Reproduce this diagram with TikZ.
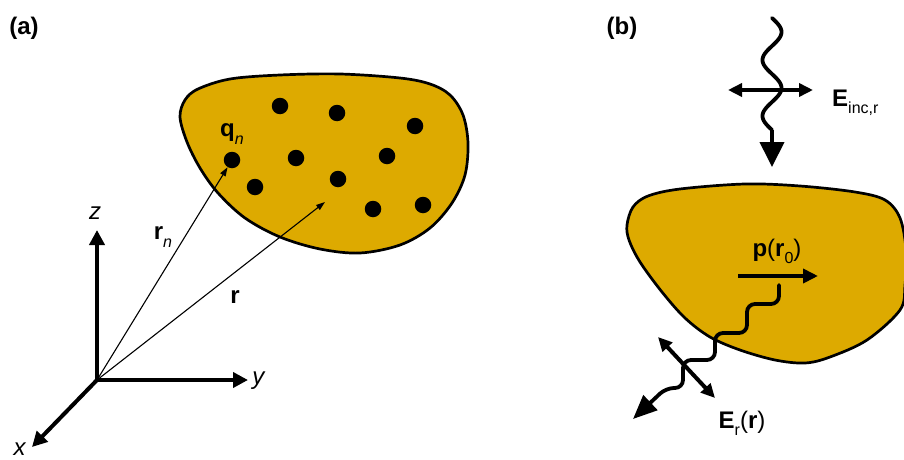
\documentclass[tikz,border=0pt]{standalone}
\usepackage{fontspec}
\setmainfont{Liberation Sans}
\usetikzlibrary{arrows.meta}
\definecolor{gold}{RGB}{221,170,0}
\newcommand\sbs[1]{\raisebox{-0.3em}{\fontsize{16}{18}\selectfont #1}}
\begin{document}
\begin{tikzpicture}[x=1pt,y=-1pt,
  every node/.style={font=\fontsize{24}{28}\selectfont, inner sep=0pt},
  blob/.style={fill=gold, draw=black, line width=2.7pt},
  axis/.style={line width=4pt, -{Triangle[length=15pt,width=15pt]}},
  vec/.style={line width=1.1pt, -{Triangle[length=9pt,width=6pt]}},
  dot/.style={circle, fill=black, minimum size=16.5pt, inner sep=0pt},
  wave/.style={line width=3.8pt, line cap=round},
  pol/.style={line width=4pt, {Triangle[length=14pt,width=13pt]}-{Triangle[length=14pt,width=13pt]}}]
\useasboundingbox (0,0) rectangle (904,460);

% ---------- panel (a) ----------
\node (la) at (24,28) {\textbf{(a)}};
\draw[blob] plot[smooth cycle, tension=0.55] coordinates {
  (180,117) (185,100) (198,89) (230,79) (280,75) (340,74) (400,78) (430,84)
  (450,95) (463,115) (468,143) (465,175) (452,203) (430,228) (400,245)
  (360,253) (320,249) (280,237) (245,218) (218,193) (200,168) (187,142)};
\node[dot] (d1) at (280,106) {};
\node[dot] (d2) at (337,113) {};
\node[dot] (d3) at (415,126) {};
\node[dot] (d4) at (232,160) {};
\node[dot] (d5) at (296,158) {};
\node[dot] (d6) at (387,156) {};
\node[dot] (d7) at (255,187) {};
\node[dot] (d8) at (338,179) {};
\node[dot] (d9) at (373,209) {};
\node[dot] (d10) at (423,205) {};
\node (qn) at (232,134) {\textbf{q}\sbs{\textit{n}}};

\coordinate (O) at (97,380);
\coordinate (zt) at (97,230);
\coordinate (yt) at (248,380);
\coordinate (xt) at (32,447);
\coordinate (rt) at (325,202);
\draw[axis] (O) -- (zt);
\draw[axis] (O) -- (yt);
\draw[axis] (O) -- (xt);
\node (zl) at (95,213) {\textit{z}};
\node (yl) at (259,381) {\textit{y}};
\node (xl) at (20,449) {\textit{x}};
\draw[vec] (O) -- (d4);
\draw[vec] (O) -- (rt);
\node (rnl) at (163,237) {\textbf{r}\sbs{\textit{n}}};
\node (rl) at (235,297) {\textbf{r}};

% ---------- panel (b) ----------
\node (lb) at (622,28) {\textbf{(b)}};
\draw[blob] plot[smooth cycle, tension=0.55] coordinates {
  (627,225) (633,207) (648,196) (680,189) (745,184) (800,186) (855,192)
  (885,200) (900,218) (906,250) (905,285) (900,310) (867,340) (830,357)
  (805,363) (775,360) (740,350) (710,337) (685,318) (662,292) (640,262) (629,240)};

% incident wave
\draw[wave] plot[domain=0:112, samples=90, smooth] ({772+9.5*sin(6.42857*\x)},{18+\x});
\coordinate (ws) at (772,130);
\coordinate (wt) at (772,167);
\draw[line width=4pt, -{Triangle[length=25pt,width=24pt]}] (ws) -- (wt);
\coordinate (pl) at (728,90);
\coordinate (pr) at (813,90);
\draw[pol] (pl) -- (pr);
\node[anchor=base west] (einc) at (832,106) {\textbf{E}\sbs{inc,r}};

% dipole
\coordinate (ps) at (738,276);
\coordinate (pt) at (818,276);
\draw[line width=4pt, -{Triangle[length=15pt,width=14pt]}] (ps) -- (pt);
\node (pl0) at (777,251) {\textbf{p}(\textbf{r}\sbs{0})};

% scattered wave
\coordinate (ss) at (779,285);
\coordinate (st) at (633,419);
\draw[wave, rounded corners=8pt, -{Triangle[length=24pt,width=20pt]}]
  (ss) -- (779,304) -- (747,304) -- (747,333) -- (715,333) -- (715,360)
  -- (683,360) -- (683,388) -- (666,388) -- (st);
\coordinate (ea) at (658,337);
\coordinate (eb) at (715,398);
\draw[pol] (ea) -- (eb);
\node (erl) at (742,423) {\textbf{E}\sbs{r}(\textbf{r})};
\end{tikzpicture}
\end{document}
